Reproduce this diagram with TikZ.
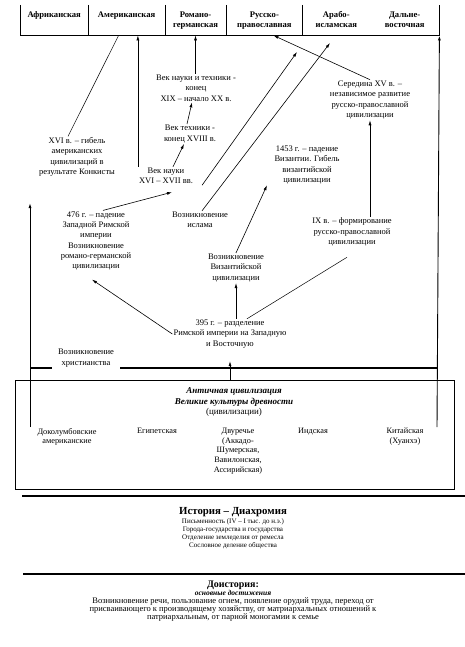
\documentclass[tikz,border=0pt]{standalone}
\usepackage{fontspec}
\setmainfont{Liberation Serif}
\usetikzlibrary{arrows.meta, positioning, calc}

\begin{document}
\begin{tikzpicture}[x=1pt, y=-1pt, node distance=1pt, font=\fontsize{8.5}{10.3}\selectfont,
          civbox/.style={minimum height=30pt, inner sep=0pt, align=center, font=\fontsize{8.6}{10}\selectfont\bfseries},
          note/.style={align=center, inner sep=1pt},
          civname/.style={align=center, anchor=north, inner sep=1pt, font=\fontsize{8.3}{9.6}\selectfont},
          arrow/.style={-{Latex[length=5pt, width=3pt]}, line width=0.6pt},
          link/.style={line width=0.5pt},
          axis/.style={-{Latex[length=5pt, width=3pt]}, line width=0.9pt},
          bar/.style={line width=1.8pt}]
        \useasboundingbox (0,0) rectangle (465,647);

        % civilisations of today
        \node [civbox, minimum width=68pt, anchor=north west] (afr) at (20,5) {\strut Африканская\\\strut};
        \node [civbox, minimum width=76pt, right=0pt of afr] (ame) {\strut Американская\\\strut};
        \node [civbox, minimum width=61pt, right=0pt of ame] (rom) {\strut Романо-\\\strut германская};
        \node [civbox, minimum width=76pt, right=0pt of rom] (rus) {\strut Русско-\\\strut православная};
        \node [civbox, minimum width=67pt, right=0pt of rus] (arab) {\strut Арабо-\\\strut исламская};
        \node [civbox, minimum width=69pt, right=0pt of arab] (far) {\strut Дальне-\\\strut восточная};
        \draw [link] (afr.north west) -- (afr.south west) -- (far.south east) -- (far.north east);
        \foreach \b in {ame, rom, rus, arab}
          \draw [link] (\b.north west) -- (\b.south west);

        % events
        \node [note] (sci3) at (196,88) {Век науки и техники -\\конец\\XIX – начало XX в.};
        \node [note] (tech) at (190,134) {Век техники -\\конец XVIII в.};
        \node [note] (sci1) at (166,176) {Век науки\\XVI – XVII вв.};
        \node [note] (conq) at (77,157) {XVI в. – гибель\\американских\\цивилизаций в\\результате Конкисты};
        \node [note] (mid15) at (370,100) {Середина XV в. –\\независимое развитие\\русско-православной\\цивилизации};
        \node [note] (fall1453) at (307,165) {1453 г. – падение\\Византии. Гибель\\византийской\\цивилизации};
        \node [note] (rome476) at (96,241) {476 г. – падение\\Западной Римской\\империи\\Возникновение\\романо-германской\\цивилизации};
        \node [note] (islam) at (200,220) {Возникновение\\ислама};
        \node [note] (byz) at (236,268) {Возникновение\\Византийской\\цивилизации};
        \node [note] (ix) at (352,232) {IX в. – формирование\\русско-православной\\цивилизации};
        \node [note] (split395) at (230,334) {395 г. – разделение\\Римской империи на Западную\\и Восточную};
        \node [note, inner xsep=6pt] (christ) at (86,358) {Возникновение\\христианства};

        \coordinate (tipA) at (297,52);
        \coordinate (tipB) at (330,43);
        \coordinate (lbot) at (30,427);
        \coordinate (ltop) at (30,203);
        \coordinate (rbot) at (437,427);
        \coordinate (lmid) at (30,368);
        \coordinate (rmid) at (437,368);

        \draw [link] ([xshift=-9pt]conq.north) -- ([xshift=-8pt]ame.south);
        \draw [arrow] (sci1.north west) -- (sci1.north west |- ame.south);
        \draw [arrow] (rom.south |- sci3.north) -- (rom.south);
        \draw [arrow] ([xshift=-3pt]tech.north) -- ([xshift=-4pt]sci3.south);
        \draw [arrow] ([xshift=7pt]sci1.north) -- ([xshift=-6pt]tech.south);
        \draw [arrow] ([xshift=7pt]rome476.north) -- ([xshift=6pt, yshift=-7pt]sci1.south);
        \draw [arrow] ([xshift=8pt]sci1.south east) -- (tipA);
        \draw [arrow] ([xshift=2pt]islam.north) -- (tipB);
        \draw [arrow] (mid15.north) -- ([xshift=9pt]rus.south);
        \draw [arrow] (ix.north -| mid15.south) -- (mid15.south);
        \draw [arrow] (byz.north) -- ([xshift=-40pt]fall1453.south);
        \draw [arrow] (byz.south |- split395.north) -- (byz.south);
        \draw [arrow] (split395.west) -- ([xshift=-4pt, yshift=-8pt]rome476.south);
        \draw [link] ([xshift=17pt]split395.north) -- ([xshift=-5pt, yshift=-10pt]ix.south);

        % ancient world
        \node [draw, line width=0.7pt, minimum width=439pt, minimum height=109pt, inner sep=0pt, anchor=north west] (antiq) at (15,380) {};
        \node [note, font=\fontsize{9}{10.5}\selectfont] (antiqtitle) at (234,402) {\textbf{\textit{Античная цивилизация}}\\\textbf{\textit{Великие культуры древности}}\\(цивилизации)};
        \node [civname] (precol) at (67,427) {Доколумбовские\\американские};
        \node [civname] (egypt) at (157,427) {Египетская};
        \node [civname] (meso) at (238,427) {Двуречье\\(Аккадо-\\Шумерская,\\Вавилонская,\\Ассирийская)};
        \node [civname] (indus) at (313,427) {Индская};
        \node [civname] (china) at (405,427) {Китайская\\(Хуанхэ)};

        \draw [arrow] (split395.south |- antiq.north) -- ([yshift=-12pt]split395.south);
        \draw [axis] (lbot) -- (ltop);
        \draw [axis] (rbot) -- (far.south east);
        \draw [bar] (lmid) -- (lmid -| christ.west);
        \draw [bar] (christ.east |- rmid) -- (rmid);

        % history
        \draw [bar] (22,496) -- (465,496);
        \node [note, font=\fontsize{10.8}{12}\selectfont\bfseries] (histtitle) at (233,512) {История – Диахромия};
        \node [note, font=\fontsize{7}{8}\selectfont, below=0pt of histtitle] (histlist) {Письменность (IV – I тыс. до н.э.)\\Города-государства и государства\\Отделение земледелия от ремесла\\Сословное деление общества};

        % prehistory
        \draw [bar] (23,574) -- (465,574);
        \node [note, font=\fontsize{10}{11}\selectfont\bfseries] (pretitle) at (233,585) {Доистория:};
        \node [note, font=\fontsize{7.5}{8}\selectfont\bfseries\itshape, below=-1pt of pretitle] (presub) {основные достижения};
        \node [note, font=\fontsize{8.5}{8.2}\selectfont, below=-1pt of presub] (prelist) {Возникновение речи, пользование огнем, появление орудий труда, переход от\\присваивающего к производящему хозяйству, от матриархальных отношений к\\патриархальным, от парной моногамии к семье};
      \end{tikzpicture}
\end{document}
